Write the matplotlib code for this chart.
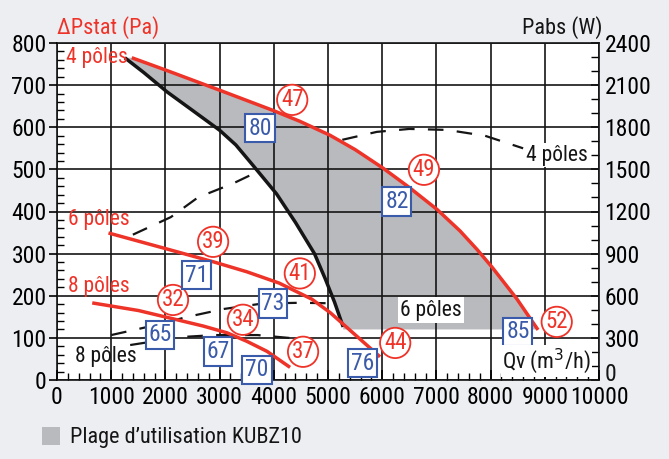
import matplotlib
matplotlib.use("Agg")
import matplotlib.pyplot as plt
from matplotlib import font_manager as fm
from matplotlib.ticker import MultipleLocator, FuncFormatter
from matplotlib.patches import Rectangle
from matplotlib.transforms import ScaledTranslation

# ---- data ----
# Static pressure curves (Pa) vs airflow (m3/h)
p4_x = [1380, 2000, 3000, 3985, 4483, 5037, 5500, 6015, 6500, 7011, 7435, 7749, 8026, 8487, 8875]
p4_y = [765, 736, 688, 640, 614, 581, 547, 503, 457, 405, 354, 310, 268, 192, 119]
p6_x = [950, 2000, 2900, 3500, 4100, 4700, 5040, 5460, 5960]
p6_y = [349, 312, 280, 257, 230, 192, 160, 112, 55]
p8_x = [650, 1500, 2085, 2700, 3137, 3500, 3875, 4300]
p8_y = [183, 165, 147, 128, 112, 92, 68, 30]
# left boundary of operating range
lim_x = [1250, 1600, 2030, 2500, 3000, 3300, 3600, 4050, 4400, 4750, 4950, 5120, 5280]
lim_y = [765, 730, 684, 640, 593, 558, 512, 442, 374, 300, 240, 185, 126]
range_floor = 120
# Absorbed power curves (W)
w4_x = [1400, 2100, 2600, 3250, 3900, 4480, 5100, 5900, 6500, 7200, 7900, 8600]
w4_y = [1035, 1160, 1300, 1400, 1520, 1624, 1696, 1767, 1788, 1781, 1739, 1650]
w6_x = [1000, 1750, 2400, 3080, 3800, 4500, 5250, 5870]
w6_y = [320, 385, 449, 506, 545, 550, 545, 500]
w8_x = [1350, 2000, 2300, 2900, 3700, 4300]
w8_y = [249, 288, 306, 320, 320, 299]
# sound levels (red circles) and efficiency marks (blue squares)
circle_labels = ['47', '49', '52', '39', '41', '44', '32', '34', '37']
circle_x = [4340, 6770, 9220, 2880, 4480, 6240, 2140, 3430, 4540]
circle_y = [665, 499, 138, 328, 253, 88, 190, 143, 67]
square_labels = ['80', '82', '85', '71', '73', '76', '65', '67', '70']
square_x = [3745, 6270, 8505, 2580, 3985, 5630, 1900, 2970, 3690]
square_y = [598, 423, 114, 249, 182, 40, 107, 67, 24]

# ---- font: prefer a condensed face ----
condensed = False
names = {f.name for f in fm.fontManager.ttflist}
for cand in ['Liberation Sans Narrow', 'Roboto Condensed', 'Open Sans Condensed',
             'Noto Sans Condensed', 'DejaVu Sans Condensed']:
    if cand in names:
        plt.rcParams['font.family'] = [cand, 'DejaVu Sans']
        condensed = True
        break
if not condensed:
    if any(f.name == 'DejaVu Sans' and 'Condensed' in f.fname for f in fm.fontManager.ttflist):
        plt.rcParams['font.family'] = ['DejaVu Sans']
        plt.rcParams['font.stretch'] = 'condensed'
        condensed = True
    else:
        plt.rcParams['font.family'] = ['DejaVu Sans']
k = 1.0 if condensed else 0.85
FS = 17 * k
FST = 16 * k
FSL = 15.5 * k
FSN = 16.5 * k

RED = '#EE3329'
BLUE = '#3A5BA9'
GRAY = '#B8BABE'
BG = '#ECEEF2'
INK = '#151515'

fig = plt.figure(figsize=(6.69, 4.59), dpi=100, facecolor=BG)
rect = [57/669, 1-380/459, (599-57)/669, (380-43)/459]
fig.patches.append(Rectangle(rect[:2], rect[2], rect[3], transform=fig.transFigure,
                             facecolor='white', zorder=-1))
axr = fig.add_axes(rect)
ax = fig.add_axes(rect, sharex=axr)
ax.patch.set_visible(False)
axr.patch.set_visible(False)

ax.set_xlim(0, 10000)
ax.set_ylim(0, 800)
axr.set_ylim(0, 2400)

# operating range polygon
poly_x = list(p4_x) + [p4_x[-1], lim_x[-1]] + lim_x[::-1]
poly_y = list(p4_y) + [range_floor, range_floor] + lim_y[::-1]
ax.fill(poly_x, poly_y, color=GRAY, zorder=1, lw=0)

ax.xaxis.set_major_locator(MultipleLocator(1000))
ax.xaxis.set_minor_locator(MultipleLocator(200))
ax.yaxis.set_major_locator(MultipleLocator(100))
ax.yaxis.set_minor_locator(MultipleLocator(20))
ax.grid(True, which='major', color=INK, lw=1.2, zorder=2)
ax.set_axisbelow(False)
ax.tick_params(axis='y', which='major', labelsize=FS, length=6, width=1.2, direction='out', pad=1.5)
ax.tick_params(axis='x', which='major', labelsize=FS, length=7, width=1.2, direction='in', pad=4)
ax.tick_params(axis='both', which='minor', length=5, width=1, direction='in')
for s in ax.spines.values():
    s.set_color(INK)
    s.set_linewidth(1.2)

axr.yaxis.tick_right()
axr.yaxis.set_major_locator(MultipleLocator(300))
axr.yaxis.set_minor_locator(MultipleLocator(100))
axr.yaxis.set_major_formatter(FuncFormatter(lambda v, p: '' if v == 0 else f'{v:.0f}'))
axr.tick_params(axis='y', which='major', labelsize=FS, length=6, width=1.2, direction='in', pad=4)
axr.tick_params(axis='y', which='minor', length=6, width=1, direction='in')
axr.tick_params(axis='x', which='both', bottom=False, labelbottom=False)
for s in axr.spines.values():
    s.set_visible(False)
# right-axis zero label, nudged up clear of the x tick labels
axr.text(1.0, 0.0, '0', fontsize=FS, color=INK, ha='left', va='center',
         transform=axr.transAxes + ScaledTranslation(4/72, 4/72, fig.dpi_scale_trans))

# power curves (dashed)
dash = (0, (7, 6))
for xs, ys in [(w4_x, w4_y), (w6_x, w6_y), (w8_x, w8_y)]:
    axr.plot(xs, ys, color=INK, lw=1.6, ls=dash, zorder=3)

# pressure curves
ax.plot(lim_x, lim_y, color=INK, lw=2.5, zorder=4, solid_capstyle='butt', solid_joinstyle='round')
for xs, ys in [(p4_x, p4_y), (p6_x, p6_y), (p8_x, p8_y)]:
    ax.plot(xs, ys, color=RED, lw=2.5, zorder=5, solid_capstyle='butt', solid_joinstyle='round')

for t, x, y in zip(circle_labels, circle_x, circle_y):
    ax.text(x, y, t, color=RED, fontsize=FSN, ha='center', va='center', zorder=7,
            bbox=dict(boxstyle='circle,pad=0.16', fc='white', ec=RED, lw=1.3))
for t, x, y in zip(square_labels, square_x, square_y):
    ax.text(x, y, t, color=BLUE, fontsize=FSN + 0.5, ha='center', va='center', zorder=7,
            bbox=dict(boxstyle='square,pad=0.12', fc='white', ec=BLUE, lw=1.5))

# curve labels
ax.text(160, 765, '4 pôles', color=RED, fontsize=FSL, va='center', ha='left', zorder=8)
ax.text(200, 382, '6 pôles', color=RED, fontsize=FSL, va='center', ha='left', zorder=8)
ax.text(200, 222, '8 pôles', color=RED, fontsize=FSL, va='center', ha='left', zorder=8)
ax.text(330, 55, '8 pôles', color=INK, fontsize=FSL, va='center', ha='left', zorder=8)
ax.text(6330, 166, '6 pôles', color=INK, fontsize=FSL, va='center', ha='left', zorder=8,
        bbox=dict(boxstyle='square,pad=0.1', fc='white', ec='none'))
ax.text(8660, 534, '4 pôles', color=INK, fontsize=FSL, va='center', ha='left', zorder=8,
        bbox=dict(boxstyle='square,pad=0.05', fc='white', ec='none'))
ax.text(9850, 45, 'Qv (m$^3$/h)', color=INK, fontsize=FST, va='center', ha='right', zorder=8,
        bbox=dict(boxstyle='square,pad=0.05', fc='white', ec='none'))

fig.text(57/669, 1-28/459, 'ΔPstat (Pa)', color=RED, fontsize=FST, va='center', ha='left')
fig.text(603/669, 1-28/459, 'Pabs (W)', color=INK, fontsize=FST, va='center', ha='right')

# legend
fig.patches.append(Rectangle((42/669, 1-445/459), 18/669, 18/459, transform=fig.transFigure,
                             facecolor=GRAY, edgecolor='none'))
fig.text(70/669, 1-437/459, 'Plage d’utilisation KUBZ10', color=INK, fontsize=FST,
         va='center', ha='left')

fig.savefig('out.png', dpi=100, facecolor=BG)
